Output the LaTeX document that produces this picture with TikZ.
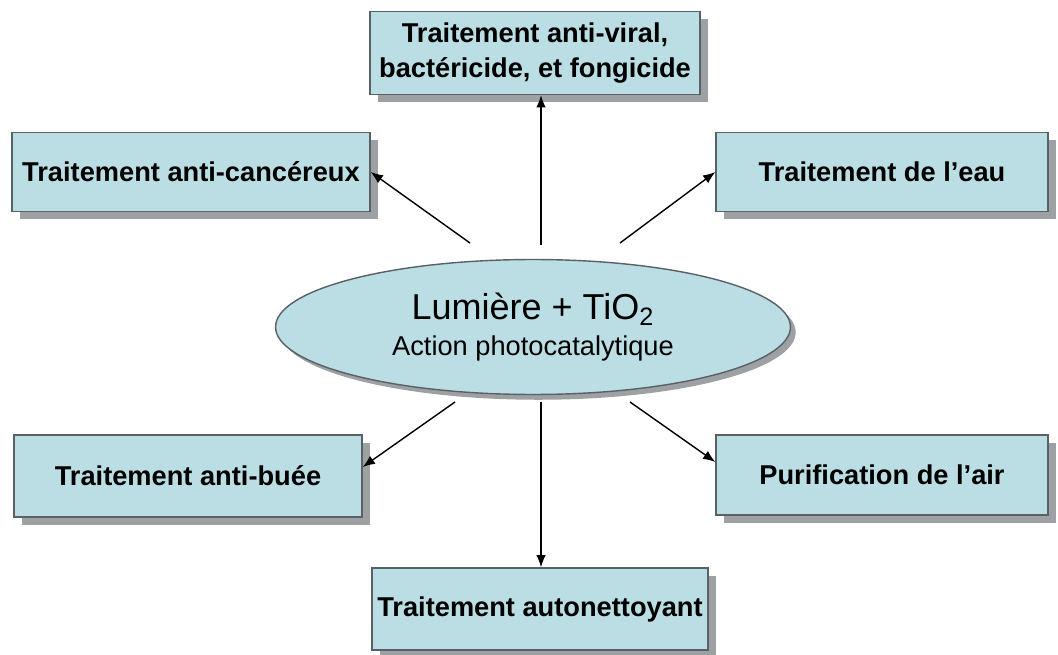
\documentclass[tikz,border=0pt]{standalone}
\usepackage{fontspec}
\setmainfont{Liberation Sans}
\usepackage{tikz}
\definecolor{paleblue}{rgb}{0.73, 0.87, 0.89}
\definecolor{boxedge}{rgb}{0.35, 0.38, 0.40}
\definecolor{shadowgray}{rgb}{0.62, 0.63, 0.64}
\usetikzlibrary{shapes.geometric,shadows,arrows.meta}

\tikzset{
  effet/.style={rectangle, fill=paleblue, draw=boxedge, line width=0.8pt,
    drop shadow={shadow xshift=4.5pt, shadow yshift=-4.5pt, fill=shadowgray, opacity=1},
    font=\fontsize{15.5}{19.5}\selectfont\bfseries, align=center, inner sep=0pt},
  source/.style={ellipse, fill=paleblue, draw=boxedge, line width=0.8pt,
    drop shadow={shadow xshift=3pt, shadow yshift=-3pt, fill=shadowgray, opacity=1},
    align=center, inner sep=0pt}
}

\begin{document}
\begin{tikzpicture}[x=0.02cm, y=-0.02cm, >={Latex[length=7pt,width=5.5pt]}, line width=0.8pt]

    \useasboundingbox (0,0) rectangle (1058,655);

                % center
                \node[source, minimum width=10.3cm, minimum height=2.7cm] (lum) at (533,327)
                  {\fontsize{20.5}{22}\selectfont Lumière + TiO\textsubscript{2}\\[5pt]
                   \fontsize{15.5}{17}\selectfont Action photocatalytique};

                % Applications
                \node[effet, minimum width=6.6cm, minimum height=1.66cm] (viral) at (535,53)
                  {Traitement anti-viral,\\bactéricide, et fongicide};
                \node[effet, minimum width=7.16cm, minimum height=1.58cm] (cancer) at (191,172) {Traitement anti-cancéreux};
                \node[effet, minimum width=6.64cm, minimum height=1.58cm] (eau) at (882,172) {Traitement de l’eau};
                \node[effet, minimum width=6.96cm, minimum height=1.64cm] (buee) at (188,476) {Traitement anti-buée};
                \node[effet, minimum width=6.64cm, minimum height=1.6cm] (air) at (882,475) {Purification de l’air};
                \node[effet, minimum width=6.72cm, minimum height=1.64cm] (auto) at (540,609) {Traitement autonettoyant};

                % arrow starts
                \coordinate (s1) at (541,245);
                \coordinate (s2) at (470,243);
                \coordinate (s3) at (620,243);
                \coordinate (s4) at (455,402);
                \coordinate (s5) at (630,402);
                \coordinate (s6) at (541,402);

                \draw[->] (s1) -- (viral.south -| s1);
                \draw[->] (s2) -- (cancer.east);
                \draw[->] (s3) -- (eau.west);
                \draw[->] (s4) -- ([yshift=0.18cm]buee.east);
                \draw[->] (s5) -- ([yshift=0.26cm]air.west);
                \draw[->] (s6) -- (auto.north -| s6);

\end{tikzpicture}
\end{document}
